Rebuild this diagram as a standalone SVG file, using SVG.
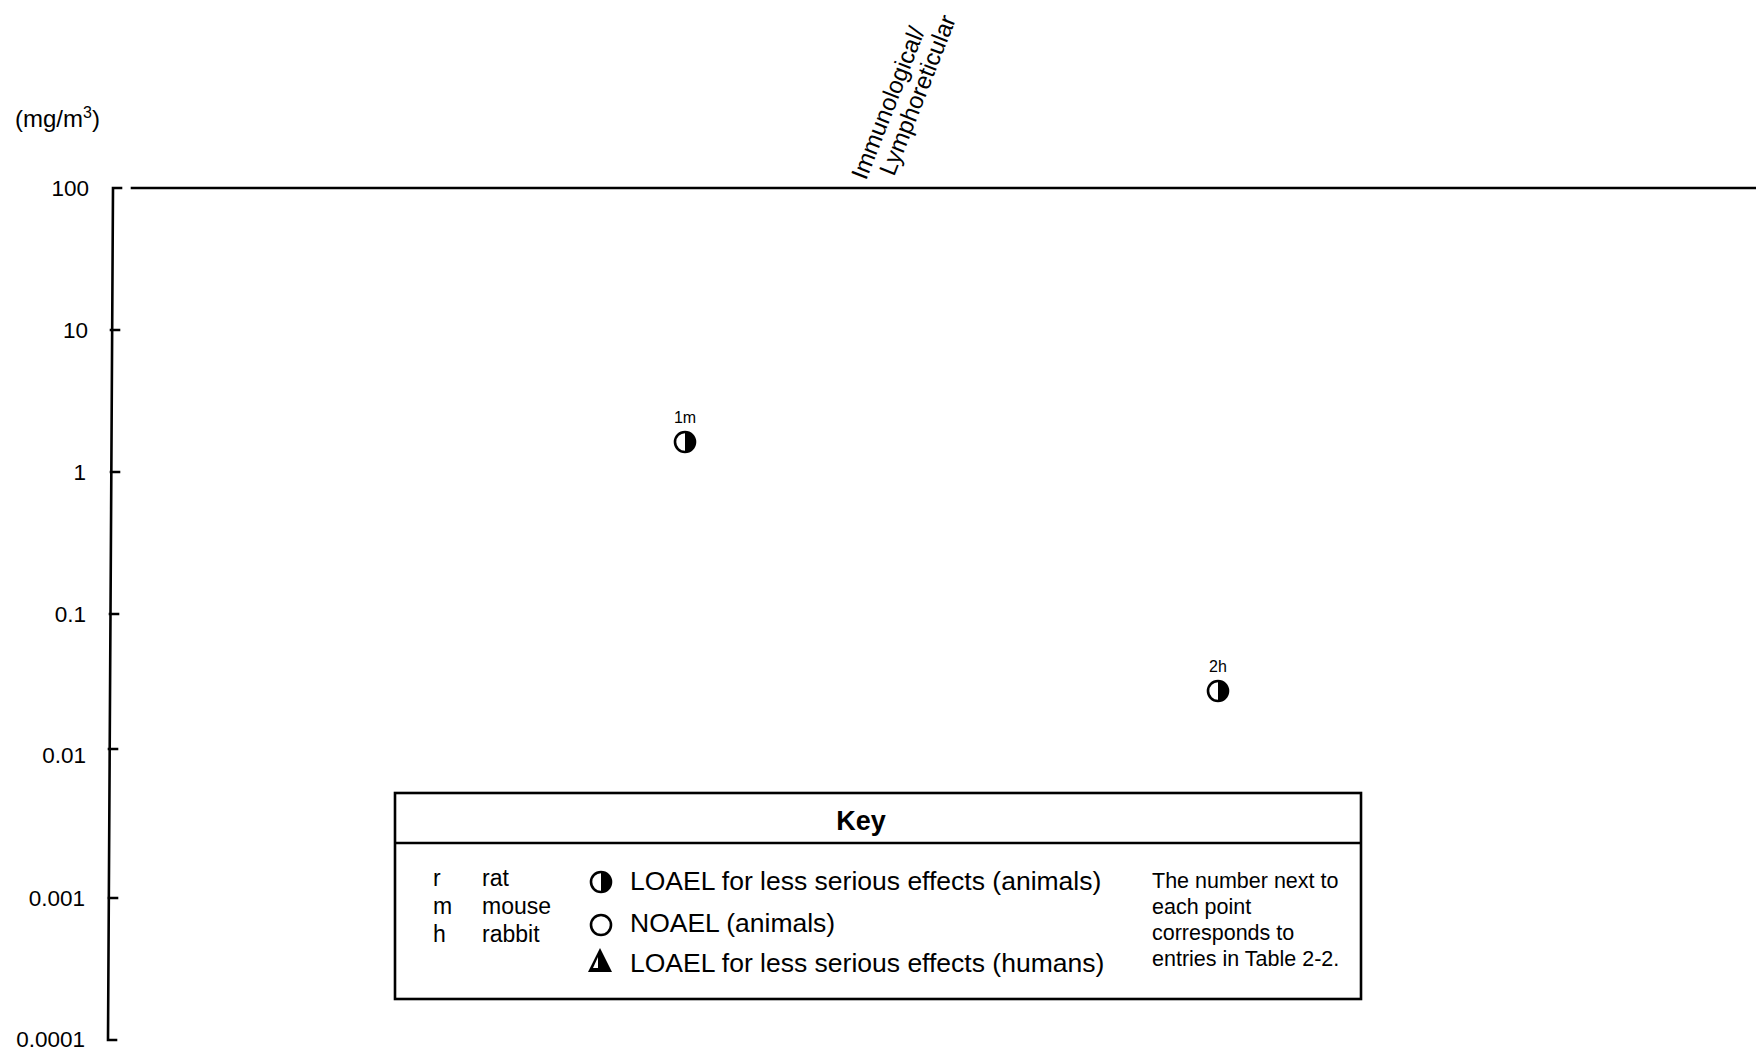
<svg xmlns="http://www.w3.org/2000/svg" width="1756" height="1052" viewBox="0 0 1756 1052">
  <style>
    text { font-family: "Liberation Sans", Arial, sans-serif; fill: #000; }
    .axis { stroke: #000; stroke-width: 2.6; fill: none; stroke-linecap: square; }
    .tick { font-size: 22.5px; text-anchor: end; }
    .ptlabel { font-size: 16px; text-anchor: middle; }
    .leg { font-size: 26.5px; }
    .sp { font-size: 23px; }
    .note { font-size: 21.5px; }
    .ring { fill: #fff; stroke: #000; stroke-width: 2.6; }
  </style>
  <defs>
    <!-- half-filled circle: LOAEL for less serious effects (animals) -->
    <g id="half">
      <circle r="10" class="ring"/>
      <path d="M0,-10 A10,10 0 0 1 0,10 Z" fill="#000"/>
    </g>
  </defs>

  <rect width="1756" height="1052" fill="#fff"/>

  <!-- unit label -->
  <text x="15" y="127" font-size="24px">(mg/m<tspan font-size="16px" dy="-9">3</tspan><tspan dy="9">)</tspan></text>

  <!-- column heading -->
  <g id="heading" font-size="24px">
    <text transform="translate(866,181) rotate(-68.5)">Immunological/</text>
    <text transform="translate(894,177) rotate(-68.5)">Lymphoreticular</text>
  </g>

  <!-- axes -->
  <g id="axes">
    <path class="axis" d="M121,188 L113,188 L108,1040 L116,1040"/>
    <path class="axis" d="M111,330 H119 M111,472 H119 M110,614 H118 M109,749 H117 M109,898 H117"/>
    <line class="axis" x1="132" y1="188" x2="1756" y2="188"/>
    <text class="tick" x="89" y="196">100</text>
    <text class="tick" x="88" y="338">10</text>
    <text class="tick" x="86" y="480">1</text>
    <text class="tick" x="86" y="622">0.1</text>
    <text class="tick" x="86" y="763">0.01</text>
    <text class="tick" x="85" y="906">0.001</text>
    <text class="tick" x="85" y="1047">0.0001</text>
  </g>

  <!-- data points -->
  <g id="point-1m">
    <text class="ptlabel" x="685" y="423">1m</text>
    <use href="#half" x="685" y="442"/>
  </g>
  <g id="point-2h">
    <text class="ptlabel" x="1218" y="672">2h</text>
    <use href="#half" x="1218" y="691"/>
  </g>

  <!-- legend -->
  <g id="key">
    <rect x="395" y="793" width="966" height="206" fill="none" stroke="#000" stroke-width="2.6"/>
    <line x1="395" y1="843" x2="1361" y2="843" stroke="#000" stroke-width="2.6"/>
    <text x="861" y="830" font-size="27px" font-weight="bold" text-anchor="middle">Key</text>

    <text class="sp" x="433" y="886">r</text>
    <text class="sp" x="482" y="886">rat</text>
    <text class="sp" x="433" y="914">m</text>
    <text class="sp" x="482" y="914">mouse</text>
    <text class="sp" x="433" y="942">h</text>
    <text class="sp" x="482" y="942">rabbit</text>

    <use href="#half" x="601" y="882"/>
    <text class="leg" x="630" y="890">LOAEL for less serious effects (animals)</text>
    <circle class="ring" cx="601" cy="925" r="10"/>
    <text class="leg" x="630" y="932">NOAEL (animals)</text>
    <path d="M600,948 L612,972 L588,972 Z" fill="#000"/>
    <path d="M598,957 L598,968 L593,968 Z" fill="#fff"/>
    <text class="leg" x="630" y="972">LOAEL for less serious effects (humans)</text>

    <text class="note" x="1152" y="888">The number next to</text>
    <text class="note" x="1152" y="914">each point</text>
    <text class="note" x="1152" y="940">corresponds to</text>
    <text class="note" x="1152" y="966">entries in Table 2-2.</text>
  </g>
</svg>
